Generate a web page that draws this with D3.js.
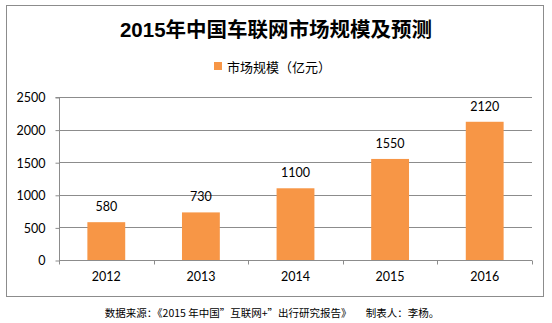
<!DOCTYPE html>
<html><head><meta charset="utf-8">
<script src="https://cdn.jsdelivr.net/npm/d3@7"></script>
<style>body{margin:0;background:#fff}svg{display:block}</style>
</head><body>
<script>
const categories = ["2012","2013","2014","2015","2016"];
const values = [580,730,1100,1550,2120];
const yTicks = [0,500,1000,1500,2000,2500];
const title = "2015年中国车联网市场规模及预测";
const legendLabel = "市场规模（亿元）";
const footnote = "数据来源：《2015 年中国”互联网+”出行研究报告》      制表人：李杨。";

const W=552,H=323;
const svg=d3.select("body").append("svg").attr("width",W).attr("height",H);
const cjk="'Noto Sans CJK SC', sans-serif";
const num="Lato, 'Noto Sans CJK SC', sans-serif";

svg.append("rect").attr("x",6.5).attr("y",5.5).attr("width",537).attr("height",291)
  .attr("fill","#fff").attr("stroke","#8c8c8c").attr("stroke-width",1);

svg.append("text").attr("x",276).attr("y",37).attr("text-anchor","middle")
  .attr("font-family","'Liberation Sans', 'Noto Sans CJK SC', sans-serif").attr("font-weight","bold")
  .attr("font-size",20.5).attr("fill","#000").text(title);

svg.append("rect").attr("x",214).attr("y",62).attr("width",8).attr("height",8).attr("fill","#F79646");
svg.append("text").attr("x",227).attr("y",71.5).attr("font-family",cjk).attr("font-size",13)
  .attr("fill","#000").text(legendLabel);

const x=d3.scaleBand().domain(categories).range([59,532]).paddingInner(0.6).paddingOuter(0.3);
const xb=d3.scaleBand().domain(categories).range([59,532]);
const y=d3.scaleLinear().domain([0,2500]).range([260,97]);

const g=svg.append("g");
g.selectAll("line.grid").data(yTicks.slice(1)).join("line")
  .attr("x1",59).attr("x2",532).attr("y1",d=>Math.round(y(d))+0.5).attr("y2",d=>Math.round(y(d))+0.5)
  .attr("stroke","#8c8c8c").attr("stroke-width",1);

const ya=svg.append("g").attr("transform","translate(59.5,0.5)")
  .call(d3.axisLeft(y).tickValues(yTicks).tickSize(4).tickPadding(10).tickFormat(d3.format("d")));
ya.select(".domain").attr("stroke","#8c8c8c").attr("d","M-4,"+Math.round(y(2500))+"H0V"+Math.round(y(0)));
ya.selectAll(".tick line").attr("stroke","#8c8c8c");
ya.selectAll(".tick text").attr("font-family",num).attr("font-size",12.5).attr("fill","#000").attr("dy","0.35em");

g.selectAll("rect.bar").data(values).join("rect")
  .attr("x",(d,i)=>x(categories[i])).attr("width",x.bandwidth())
  .attr("y",d=>y(d)).attr("height",d=>y(0)-y(d)).attr("fill","#F79646");

g.selectAll("text.val").data(values).join("text")
  .attr("x",(d,i)=>x(categories[i])+x.bandwidth()/2).attr("y",d=>y(d)-11)
  .attr("text-anchor","middle").attr("font-family",num).attr("font-size",12.5).attr("fill","#000").text(d=>d);

const xa=svg.append("g").attr("transform","translate(0,"+(Math.round(y(0))+0.5)+")")
  .call(d3.axisBottom(xb).tickSize(0).tickPadding(12));
xa.select(".domain").attr("stroke","#8c8c8c").attr("d","M59,0H532");
xa.selectAll(".tick text").attr("font-family",num).attr("font-size",12.5).attr("fill","#000");
const bounds=[59,...categories.map(c=>xb(c)+xb.bandwidth())];
xa.selectAll("line.bt").data(bounds).join("line").attr("class","bt")
  .attr("x1",d=>Math.round(d)+0.5).attr("x2",d=>Math.round(d)+0.5).attr("y1",0).attr("y2",4).attr("stroke","#8c8c8c");

svg.append("text").attr("x",272).attr("y",317).attr("text-anchor","middle").attr("font-family",cjk)
  .attr("font-size",10.5).attr("fill","#000").attr("xml:space","preserve").style("white-space","pre").text(footnote);
</script>
</body></html>
